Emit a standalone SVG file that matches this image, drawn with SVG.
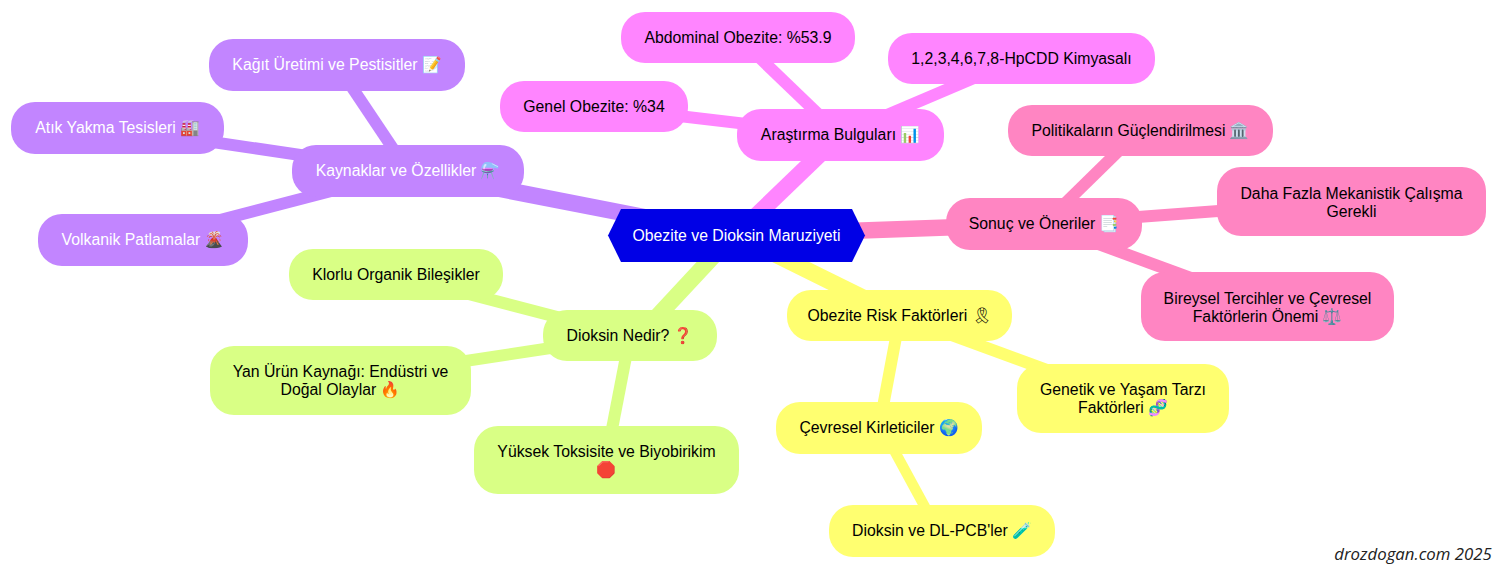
<svg xmlns="http://www.w3.org/2000/svg" width="1500" height="570" viewBox="0 0 1500 570">
<style>
text{font-family:"Liberation Sans",Arial,"Noto Color Emoji",sans-serif;font-size:15.8px;text-anchor:middle;fill:#000}
.w text,text.w{fill:#fff}
.p rect{fill:#c285ff}.m rect{fill:#ff85ff}.k rect{fill:#ff85c2}.y rect{fill:#ffff70}.g rect{fill:#d9ff85}
rect{rx:24px;ry:24px}
#connectors line{stroke-linecap:butt}
.e1{stroke-width:16.5}.e2{stroke-width:12}.e3{stroke-width:10.5}
.sp{stroke:#c285ff}.sm{stroke:#ff85ff}.sk{stroke:#ff85c2}.sy{stroke:#ffff70}.sg{stroke:#d9ff85}
</style>
<rect width="1500" height="570" style="fill:#fff;rx:0;ry:0"/>
<g id="connectors">
<line class="e1 sp" x1="408" y1="171" x2="736" y2="235"/>
<line class="e1 sm" x1="840" y1="135" x2="736" y2="235"/>
<line class="e1 sk" x1="1044" y1="224" x2="736" y2="235"/>
<line class="e1 sy" x1="900" y1="316" x2="736" y2="235"/>
<line class="e1 sg" x1="639" y1="336" x2="733" y2="235"/>
<line class="e2 sp" x1="337" y1="65" x2="408" y2="171"/>
<line class="e2 sp" x1="118" y1="128" x2="408" y2="171"/>
<line class="e2 sp" x1="143" y1="240" x2="408" y2="171"/>
<line class="e2 sm" x1="738" y1="37" x2="840" y2="135"/>
<line class="e2 sm" x1="594" y1="106" x2="840" y2="135"/>
<line class="e2 sm" x1="1021" y1="58" x2="840" y2="135"/>
<line class="e2 sk" x1="1140" y1="130" x2="1044" y2="224"/>
<line class="e2 sk" x1="1351" y1="201" x2="1044" y2="224"/>
<line class="e2 sk" x1="1267" y1="306" x2="1044" y2="224"/>
<line class="e2 sy" x1="1123" y1="398" x2="900" y2="316"/>
<line class="e2 sy" x1="879" y1="428" x2="900" y2="316"/>
<line class="e3 sy" x1="938" y1="531" x2="882" y2="428"/>
<line class="e2 sg" x1="396" y1="275" x2="630" y2="336"/>
<line class="e2 sg" x1="340" y1="380" x2="630" y2="336"/>
<line class="e2 sg" x1="606" y1="460" x2="630" y2="336"/>
</g>
<g id="root"><polygon points="608,235.5 621,209 852,209 865,235.5 852,262 621,262" fill="#0000e6"/><text class="w" x="736.500" y="241">Obezite ve Dioksin Maruziyeti</text></g>
<g id="kaynaklar" class="p w"><rect x="292" y="145" width="232" height="52"/><text x="408" y="176">Kaynaklar ve Özellikler ⚗️</text></g>
<g id="kagit" class="p w"><rect x="209" y="39" width="256" height="52"/><text x="337" y="70">Kağıt Üretimi ve Pestisitler 📝</text></g>
<g id="atik" class="p w"><rect x="11" y="102" width="213" height="52"/><text x="117.500" y="133">Atık Yakma Tesisleri 🏭</text></g>
<g id="volkanik" class="p w"><rect x="38" y="214" width="210" height="52"/><text x="143" y="245">Volkanik Patlamalar 🌋</text></g>
<g id="arastirma" class="m"><rect x="737" y="109" width="207" height="52"/><text x="840.500" y="140">Araştırma Bulguları 📊</text></g>
<g id="abdominal" class="m"><rect x="621" y="12" width="234" height="51"/><text x="738" y="43">Abdominal Obezite: %53.9</text></g>
<g id="genel" class="m"><rect x="500" y="81" width="188" height="51"/><text x="594" y="112">Genel Obezite: %34</text></g>
<g id="hpcdd" class="m"><rect x="888" y="33" width="267" height="51"/><text x="1021.500" y="64">1,2,3,4,6,7,8-HpCDD Kimyasalı</text></g>
<g id="sonuc" class="k"><rect x="946" y="198" width="196" height="52"/><text x="1044" y="229">Sonuç ve Öneriler 📑</text></g>
<g id="politika" class="k"><rect x="1008" y="105" width="265" height="51"/><text x="1140.500" y="136">Politikaların Güçlendirilmesi 🏛️</text></g>
<g id="daha" class="k"><rect x="1217" y="167" width="269" height="69"/><text x="1351.500" y="199">Daha Fazla Mekanistik Çalışma</text><text x="1351.500" y="216.500">Gerekli</text></g>
<g id="bireysel" class="k"><rect x="1141" y="272" width="253" height="69"/><text x="1267.500" y="304">Bireysel Tercihler ve Çevresel</text><text x="1267.500" y="321.500">Faktörlerin Önemi ⚖️</text></g>
<g id="risk" class="y"><rect x="787" y="290" width="225" height="51"/><text x="899.500" y="321">Obezite Risk Faktörleri 🎗︎</text></g>
<g id="genetik" class="y"><rect x="1017" y="364" width="212" height="69"/><text x="1123" y="395">Genetik ve Yaşam Tarzı</text><text x="1123" y="412.500">Faktörleri 🧬</text></g>
<g id="cevresel" class="y"><rect x="776" y="402" width="206" height="52"/><text x="879" y="433">Çevresel Kirleticiler 🌍</text></g>
<g id="dlpcb" class="y"><rect x="829" y="505" width="226" height="52"/><text x="942" y="536">Dioksin ve DL-PCB'ler 🧪</text></g>
<g id="nedir" class="g"><rect x="543" y="310" width="174" height="51"/><text x="630" y="341">Dioksin Nedir? ❓</text></g>
<g id="klorlu" class="g"><rect x="289" y="249" width="214" height="51"/><text x="396" y="280">Klorlu Organik Bileşikler</text></g>
<g id="yan" class="g"><rect x="210" y="346" width="261" height="69"/><text x="340.500" y="377">Yan Ürün Kaynağı: Endüstri ve</text><text x="340.500" y="394.500">Doğal Olaylar 🔥</text></g>
<g id="yuksek" class="g"><rect x="474" y="426" width="265" height="68"/><text x="606.500" y="457">Yüksek Toksisite ve Biyobirikim</text><text x="606.500" y="474.500">🛑</text></g>
<text x="1413" y="560" style="font-family:'Open Sans','Noto Sans',sans-serif;font-style:italic;font-size:16.8px;fill:#222">drozdogan.com 2025</text>
</svg>
